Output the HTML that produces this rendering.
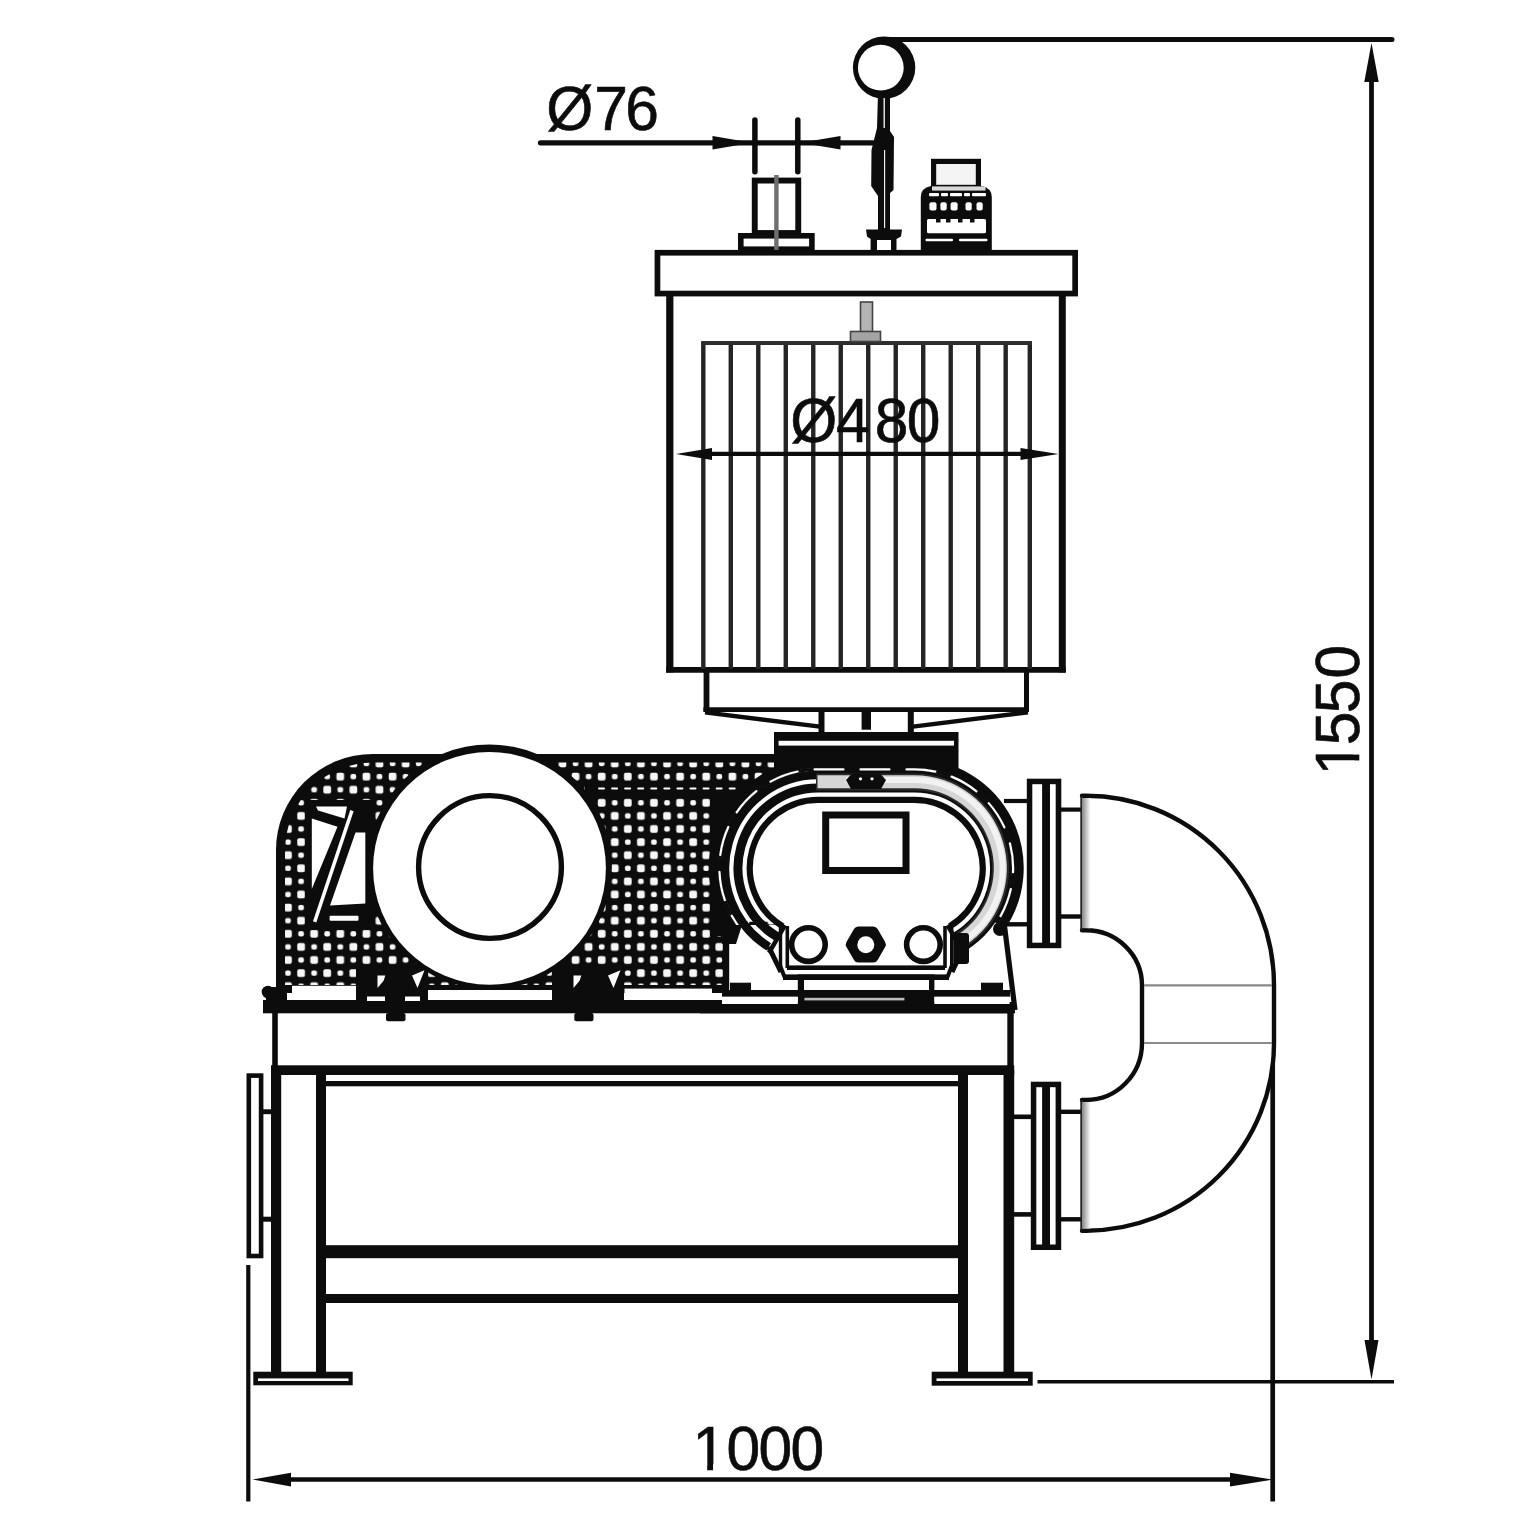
<!DOCTYPE html>
<html lang="en"><head><meta charset="utf-8"><title>Blower unit drawing</title>
<style>html,body{margin:0;padding:0;background:#fff}body{width:1530px;height:1530px;overflow:hidden}svg{display:block}</style>
</head><body>
<svg width="1530" height="1530" viewBox="0 0 1530 1530" font-family="'Liberation Sans', sans-serif" fill="#0c0c0c">
<style>text{stroke:#0c0c0c;stroke-width:0.6px;stroke-linejoin:round}</style>
<line x1="884" y1="39.5" x2="1392" y2="39.5" stroke="#0c0c0c" stroke-width="5" stroke-linecap="round"/>
<line x1="1371.5" y1="70" x2="1371.5" y2="1350" stroke="#0c0c0c" stroke-width="4.8" stroke-linecap="butt"/>
<polygon points="1371.5,43 1364.3,82 1378.7,82" fill="#0c0c0c"/>
<polygon points="1371.5,1379.5 1364.5,1340 1378.5,1340" fill="#0c0c0c"/>
<line x1="1037.5" y1="1381.7" x2="1394" y2="1381.7" stroke="#0c0c0c" stroke-width="3.6" stroke-linecap="butt"/>
<line x1="1272.7" y1="1043" x2="1272.7" y2="1501.5" stroke="#0c0c0c" stroke-width="4.7" stroke-linecap="butt"/>
<line x1="248.3" y1="1265" x2="248.3" y2="1501.5" stroke="#0c0c0c" stroke-width="4.2" stroke-linecap="butt"/>
<line x1="270" y1="1479.6" x2="1250" y2="1479.6" stroke="#0c0c0c" stroke-width="4.5" stroke-linecap="butt"/>
<polygon points="252.5,1479.6 291,1472.8 291,1486.3999999999999" fill="#0c0c0c"/>
<polygon points="1273,1479.6 1230,1472.8 1230,1486.3999999999999" fill="#0c0c0c"/>
<line x1="540.5" y1="142.8" x2="873" y2="142.8" stroke="#0c0c0c" stroke-width="5.3" stroke-linecap="round"/>
<line x1="754.9" y1="120" x2="754.9" y2="171.8" stroke="#0c0c0c" stroke-width="5.5" stroke-linecap="round"/>
<line x1="797.8" y1="120" x2="797.8" y2="171.8" stroke="#0c0c0c" stroke-width="5.5" stroke-linecap="round"/>
<polygon points="752,142.8 712.5,136.0 712.5,149.60000000000002" fill="#0c0c0c"/>
<polygon points="800.6,142.8 840.5,136.0 840.5,149.60000000000002" fill="#0c0c0c"/>
<rect x="754.75" y="180.54999999999998" width="43.5" height="52.5" fill="#fff" stroke="#0c0c0c" stroke-width="5.9"/>
<rect x="740.8" y="235.8" width="71.1" height="13.4" fill="#fff" stroke="#0c0c0c" stroke-width="5.6"/>
<line x1="776.4" y1="175" x2="776.4" y2="251" stroke="#6e6e6e" stroke-width="4.4" stroke-linecap="butt"/>
<rect x="657.45" y="252.75" width="417.7" height="40.8" fill="#fff" stroke="#0c0c0c" stroke-width="5.7"/>
<line x1="669.8" y1="294" x2="669.8" y2="672.5" stroke="#0c0c0c" stroke-width="7.2" stroke-linecap="butt"/>
<line x1="1062.3" y1="294" x2="1062.3" y2="672.5" stroke="#0c0c0c" stroke-width="7" stroke-linecap="butt"/>
<line x1="666.2" y1="669.8" x2="1065.8" y2="669.8" stroke="#0c0c0c" stroke-width="5.8" stroke-linecap="butt"/>
<line x1="703.3" y1="342" x2="703.3" y2="669" stroke="#242424" stroke-width="4.4" stroke-linecap="butt"/>
<line x1="730.79" y1="342" x2="730.79" y2="669" stroke="#242424" stroke-width="4.4" stroke-linecap="butt"/>
<line x1="758.28" y1="342" x2="758.28" y2="669" stroke="#242424" stroke-width="4.4" stroke-linecap="butt"/>
<line x1="785.77" y1="342" x2="785.77" y2="669" stroke="#242424" stroke-width="4.4" stroke-linecap="butt"/>
<line x1="813.26" y1="342" x2="813.26" y2="669" stroke="#242424" stroke-width="4.4" stroke-linecap="butt"/>
<line x1="840.75" y1="342" x2="840.75" y2="669" stroke="#242424" stroke-width="4.4" stroke-linecap="butt"/>
<line x1="868.24" y1="342" x2="868.24" y2="669" stroke="#242424" stroke-width="4.4" stroke-linecap="butt"/>
<line x1="895.73" y1="342" x2="895.73" y2="669" stroke="#242424" stroke-width="4.4" stroke-linecap="butt"/>
<line x1="923.22" y1="342" x2="923.22" y2="669" stroke="#242424" stroke-width="4.4" stroke-linecap="butt"/>
<line x1="950.71" y1="342" x2="950.71" y2="669" stroke="#242424" stroke-width="4.4" stroke-linecap="butt"/>
<line x1="978.2" y1="342" x2="978.2" y2="669" stroke="#242424" stroke-width="4.4" stroke-linecap="butt"/>
<line x1="1005.69" y1="342" x2="1005.69" y2="669" stroke="#242424" stroke-width="4.4" stroke-linecap="butt"/>
<line x1="1029.8" y1="342" x2="1029.8" y2="669" stroke="#242424" stroke-width="4.4" stroke-linecap="butt"/>
<line x1="701.2" y1="343" x2="1032" y2="343" stroke="#2e2e2e" stroke-width="4" stroke-linecap="butt"/>
<rect x="860.5" y="302" width="12.0" height="31" fill="#b4b4b4" stroke="#444" stroke-width="1.6"/>
<rect x="850.5" y="331.5" width="30.0" height="10.0" fill="#a4a4a4" stroke="#444" stroke-width="1.6"/>
<line x1="700" y1="453.9" x2="1035" y2="453.9" stroke="#0c0c0c" stroke-width="4.3" stroke-linecap="butt"/>
<polygon points="676,454 712,448 712,460" fill="#0c0c0c"/>
<polygon points="1058.5,454 1020.5,448 1020.5,460" fill="#0c0c0c"/>
<line x1="706.5" y1="671" x2="706.5" y2="711.5" stroke="#0c0c0c" stroke-width="5.8" stroke-linecap="butt"/>
<line x1="1026.5" y1="671" x2="1026.5" y2="711.5" stroke="#0c0c0c" stroke-width="5" stroke-linecap="butt"/>
<line x1="703.4" y1="709.6" x2="1029" y2="709.6" stroke="#0c0c0c" stroke-width="4.6" stroke-linecap="butt"/>
<line x1="705" y1="712.4" x2="820" y2="726.6" stroke="#0c0c0c" stroke-width="4.4" stroke-linecap="butt"/>
<line x1="1028" y1="712.2" x2="913" y2="726.6" stroke="#0c0c0c" stroke-width="4.4" stroke-linecap="butt"/>
<line x1="821.5" y1="709" x2="821.5" y2="734" stroke="#0c0c0c" stroke-width="6" stroke-linecap="butt"/>
<line x1="910.8" y1="709" x2="910.8" y2="734" stroke="#0c0c0c" stroke-width="6" stroke-linecap="butt"/>
<rect x="861.6" y="710" width="9.4" height="19.7" fill="#0c0c0c"/>
<circle cx="884.1" cy="67.6" r="31.2" fill="#0c0c0c"/>
<circle cx="880.8" cy="67.7" r="22.9" fill="#fff"/>
<path d="M878,93 L890,93 L890,131 L894,137 L893.5,190 L890,193 L890,231 L878,231 L878,196 L871.2,186 L871.5,150 L877,128 Z" fill="#0c0c0c" />
<line x1="884.2" y1="98" x2="884.2" y2="128" stroke="#fff" stroke-width="1.3" stroke-linecap="butt"/>
<line x1="884.6" y1="150" x2="884.6" y2="228" stroke="#fff" stroke-width="1.1" stroke-linecap="butt"/>
<path d="M866,229.4 L902,229.4 L901,236.5 L896.5,239 L896.5,250 L870.6,250 L870.6,239 L867,236.5 Z" fill="#0c0c0c" />
<rect x="877" y="240" width="14" height="10" fill="#fff"/>
<rect x="933.6" y="161.4" width="44.8" height="26.0" fill="#f4f4f4" stroke="#0c0c0c" stroke-width="5.2"/>
<path d="M920.8,250 L920.8,197 Q920.8,188 931,186 L981.5,186 Q991.8,188 991.8,197 L991.8,250 Z" fill="#0c0c0c" />
<rect x="932" y="186.4" width="53.5" height="4.2" fill="#d8d8d8"/>
<rect x="929" y="193" width="10" height="3.2" fill="#fff" rx="1"/>
<rect x="941" y="193" width="7" height="3.2" fill="#fff" rx="1"/>
<rect x="950" y="193" width="12" height="3.2" fill="#fff" rx="1"/>
<rect x="964" y="193" width="6" height="3.2" fill="#fff" rx="1"/>
<rect x="972" y="193" width="14" height="3.2" fill="#fff" rx="1"/>
<rect x="929.4" y="202.2" width="7.1" height="8.2" fill="#fff" rx="2"/>
<rect x="940.4" y="202.2" width="6.3" height="8.2" fill="#fff" rx="2"/>
<rect x="950.6" y="202.2" width="7.0" height="8.2" fill="#fff" rx="2"/>
<rect x="965.5" y="202.2" width="6.2" height="8.2" fill="#fff" rx="2"/>
<rect x="976.5" y="202.2" width="6.2" height="8.2" fill="#fff" rx="2"/>
<rect x="927" y="219" width="59" height="14.2" fill="#fff" rx="1.5"/>
<rect x="936" y="217" width="4.5" height="5.5" fill="#0c0c0c"/>
<rect x="946" y="217" width="4.5" height="5.5" fill="#0c0c0c"/>
<rect x="958" y="217" width="4.5" height="5.5" fill="#0c0c0c"/>
<rect x="970" y="217" width="4.5" height="5.5" fill="#0c0c0c"/>
<rect x="925.5" y="238.8" width="27.5" height="2.4" fill="#fff" rx="1"/>
<rect x="959" y="238.8" width="28.5" height="2.4" fill="#fff" rx="1"/>
<rect x="263" y="1000" width="751" height="13.3" fill="#0c0c0c"/>
<circle cx="268" cy="992" r="6.3" fill="#0c0c0c"/>
<line x1="275" y1="1006" x2="275" y2="1070" stroke="#0c0c0c" stroke-width="5.6" stroke-linecap="butt"/>
<line x1="1010.5" y1="1006" x2="1010.5" y2="1070" stroke="#0c0c0c" stroke-width="6.4" stroke-linecap="butt"/>
<rect x="271" y="1065.3" width="743.2" height="9.7" fill="#0c0c0c"/>
<rect x="325" y="1081" width="633" height="5.3" fill="#0c0c0c"/>
<rect x="271" y="1070" width="10.2" height="302" fill="#0c0c0c"/>
<rect x="316" y="1070" width="10" height="302" fill="#0c0c0c"/>
<rect x="958" y="1070" width="10" height="302" fill="#0c0c0c"/>
<rect x="1003.5" y="1070" width="10.7" height="302" fill="#0c0c0c"/>
<rect x="326" y="1245.2" width="632" height="13.0" fill="#0c0c0c"/>
<rect x="326" y="1294" width="632" height="9" fill="#0c0c0c"/>
<rect x="253.3" y="1371.7" width="99.4" height="13.6" fill="#0c0c0c"/>
<rect x="258" y="1378.4" width="90.5" height="2.6" fill="#fff"/>
<rect x="931.7" y="1371.7" width="101.0" height="14.0" fill="#0c0c0c"/>
<rect x="936.5" y="1378.4" width="91.5" height="2.6" fill="#fff"/>
<rect x="386" y="1013" width="19.5" height="8.2" fill="#0c0c0c" rx="2"/>
<rect x="574.3" y="1013" width="19.2" height="8.2" fill="#0c0c0c" rx="2"/>
<rect x="248.8" y="1075.6" width="12.3" height="180.4" fill="#fff" stroke="#0c0c0c" stroke-width="4.6"/>
<rect x="262" y="1109.3" width="10" height="4.9" fill="#0c0c0c"/>
<rect x="262" y="1216.7" width="10" height="5.0" fill="#0c0c0c"/>
<rect x="1026.8" y="778.7" width="34.5" height="169.5" fill="#0c0c0c"/>
<rect x="1032.3" y="784.2" width="9.8" height="158.5" fill="#fff"/>
<rect x="1050" y="784.2" width="5.7" height="158.5" fill="#fff"/>
<rect x="1030.8" y="1081.7" width="30.4" height="168.3" fill="#0c0c0c"/>
<rect x="1036.3" y="1087.2" width="5.8" height="157.3" fill="#fff"/>
<rect x="1050" y="1087.2" width="5.6" height="157.3" fill="#fff"/>
<line x1="1004" y1="801" x2="1027" y2="801" stroke="#0c0c0c" stroke-width="4.2" stroke-linecap="butt"/>
<line x1="1004" y1="924.3" x2="1027" y2="924.3" stroke="#0c0c0c" stroke-width="4.4" stroke-linecap="butt"/>
<line x1="1061" y1="809.6" x2="1081" y2="809.6" stroke="#0c0c0c" stroke-width="4.2" stroke-linecap="butt"/>
<line x1="1061" y1="916.5" x2="1081" y2="916.5" stroke="#0c0c0c" stroke-width="4.4" stroke-linecap="butt"/>
<line x1="1013" y1="1116.8" x2="1031" y2="1116.8" stroke="#0c0c0c" stroke-width="4.6" stroke-linecap="butt"/>
<line x1="1013" y1="1214.4" x2="1031" y2="1214.4" stroke="#0c0c0c" stroke-width="4.6" stroke-linecap="butt"/>
<line x1="1061" y1="1111.8" x2="1081" y2="1111.8" stroke="#0c0c0c" stroke-width="4.4" stroke-linecap="butt"/>
<line x1="1061" y1="1219.3" x2="1081" y2="1219.3" stroke="#0c0c0c" stroke-width="4.4" stroke-linecap="butt"/>
<path d="M1082,795.8 L1086,795.8 A188,189.2 0 0 1 1274,985 L1274,1043 A188,187.7 0 0 1 1086,1230.7 L1082,1230.7 L1082,1100 L1086,1100 A56,57 0 0 0 1142,1043 L1142,985 A56,55 0 0 0 1086,930.3 L1082,930.3 Z" fill="#fff" />
<path d="M1082,795.8 L1086,795.8 A188,189.2 0 0 1 1274,985 L1274,1043 A188,187.7 0 0 1 1086,1230.7 L1082,1230.7" fill="none" stroke="#0c0c0c" stroke-width="4.4" stroke-linejoin="round" stroke-linecap="round"/>
<path d="M1082,1100 L1086,1100 A56,57 0 0 0 1142,1043 L1142,985 A56,55 0 0 0 1086,930.3 L1082,930.3" fill="none" stroke="#0c0c0c" stroke-width="4.4" stroke-linejoin="round" stroke-linecap="round"/>
<line x1="1081.4" y1="795.8" x2="1081.4" y2="930.3" stroke="#222" stroke-width="2.2" stroke-linecap="butt"/>
<line x1="1081.4" y1="1100" x2="1081.4" y2="1230.7" stroke="#222" stroke-width="2.2" stroke-linecap="butt"/>
<defs><linearGradient id="sh" x1="0" x2="1"><stop offset="0" stop-color="#8c8c8c"/><stop offset="1" stop-color="#fff"/></linearGradient></defs>
<rect x="1082.4" y="798" width="8.1" height="130.2" fill="url(#sh)"/>
<rect x="1082.4" y="1102.2" width="8.1" height="126.3" fill="url(#sh)"/>
<line x1="1144" y1="985.3" x2="1272" y2="985.3" stroke="#8a8a8a" stroke-width="2.2" stroke-linecap="butt"/>
<line x1="1144" y1="1043" x2="1272" y2="1043" stroke="#8a8a8a" stroke-width="2.2" stroke-linecap="butt"/>
<defs>
<pattern id="mL" x="281.465" y="796.25" width="26.14" height="26.2" patternUnits="userSpaceOnUse"><rect width="26.14" height="26.2" fill="#0c0c0c"/><rect x="2.69" y="2.75" width="7.7" height="7.6" rx="1.9" fill="#f6f6f6"/><rect x="15.76" y="15.85" width="7.7" height="7.6" rx="1.9" fill="#f6f6f6"/><rect x="16.75" y="3.85" width="5.7" height="5.4" rx="2.0" fill="#f6f6f6"/><rect x="3.69" y="16.95" width="5.7" height="5.4" rx="2.0" fill="#f6f6f6"/></pattern>

<clipPath id="gc"><path d="M276,993 L276,850 A97,96 0 0 1 373,754 L775,754 L775,993 Z"/></clipPath>
</defs>
<path d="M276,993 L276,850 A97,96 0 0 1 373,754 L775,754 L775,993 Z" fill="#0c0c0c" />
<g clip-path="url(#gc)">
<path d="M285,985 L285,850 A88,88 0 0 1 373,762.5 L489,762.5 L489,985 Z" fill="url(#mL)" />
<rect x="489" y="762.5" width="286" height="222.5" fill="url(#mL)"/>
<rect x="585" y="783.5" width="190" height="13.7" fill="#0c0c0c"/>
<rect x="598.0" y="787.4" width="7.0" height="2.0" fill="#fff" rx="1"/>
<rect x="611.07" y="787.4" width="7.0" height="2.0" fill="#fff" rx="1"/>
<rect x="624.14" y="787.4" width="7.0" height="2.0" fill="#fff" rx="1"/>
<rect x="637.21" y="787.4" width="7.0" height="2.0" fill="#fff" rx="1"/>
<rect x="650.28" y="787.4" width="7.0" height="2.0" fill="#fff" rx="1"/>
<rect x="663.35" y="787.4" width="7.0" height="2.0" fill="#fff" rx="1"/>
<rect x="676.42" y="787.4" width="7.0" height="2.0" fill="#fff" rx="1"/>
<rect x="689.49" y="787.4" width="7.0" height="2.0" fill="#fff" rx="1"/>
<rect x="702.56" y="787.4" width="7.0" height="2.0" fill="#fff" rx="1"/>
<rect x="715.63" y="787.4" width="7.0" height="2.0" fill="#fff" rx="1"/>
<rect x="728.7" y="787.4" width="7.0" height="2.0" fill="#fff" rx="1"/>
<rect x="710" y="797" width="38" height="139" fill="#0c0c0c"/>
</g>
<polygon points="305,800 372,800 372,930 305,930" fill="#0c0c0c"/>
<polygon points="311.8,818.5 337.5,826.8 311.8,889" fill="#fff"/>
<polygon points="350.3,810 353.6,811.2 316.3,922.5 313,921.3" fill="#fff"/>
<polygon points="355.5,832.6 365.3,832.6 365.3,903.5 330,905.4" fill="#fff"/>
<rect x="329.6" y="915.8" width="28.9" height="5.0" fill="#fff" rx="1"/>
<polygon points="316,806.5 347,806.5 344.5,818.5 318,810.5" fill="#fff"/>
<rect x="356" y="966" width="72" height="35" fill="#0c0c0c"/>
<polygon points="377.5,975.6 388.0,975.6 377.5,988" fill="#fff"/>
<polygon points="412.0,975.6 424.5,970.3 417.5,988" fill="#fff"/>
<rect x="552" y="966" width="72" height="35" fill="#0c0c0c"/>
<polygon points="573.5,975.6 584.0,975.6 573.5,988" fill="#fff"/>
<polygon points="608.0,975.6 620.5,970.3 613.5,988" fill="#fff"/>
<rect x="292" y="985.8" width="64" height="14.2" fill="#fff"/>
<rect x="428" y="990" width="124" height="10" fill="#fff"/>
<rect x="624.5" y="988.6" width="87.5" height="11.4" fill="#fff"/>
<rect x="266" y="987" width="21" height="13" fill="#0c0c0c"/>
<rect x="367" y="996.5" width="18" height="4.5" fill="#fff"/>
<rect x="405" y="996.5" width="15" height="4.5" fill="#fff"/>
<circle cx="489.5" cy="866.85" r="122.35" fill="#0c0c0c"/>
<circle cx="489.5" cy="868.3" r="116.4" fill="#fff"/>
<circle cx="490" cy="867" r="71.4" fill="none" stroke="#0c0c0c" stroke-width="5.4"/>
<polygon points="385.5,974.5 405.5,974.5 408.5,985 405.5,996.5 385.5,996.5 382.5,985" fill="#0c0c0c"/>
<polygon points="581.5,974.5 601.5,974.5 604.5,985 601.5,996.5 581.5,996.5 578.5,985" fill="#0c0c0c"/>
<rect x="774" y="732" width="184.5" height="36" fill="#0c0c0c"/>
<rect x="778.6" y="740.8" width="175.4" height="4.8" fill="#fff"/>
<path d="M724.9,921.75 A107.5,107.5 0 0 1 818,760.5 L914.5,760.5 A107.5,107.5 0 0 1 1007.6,921.75 Z" fill="#fff" />
<polygon points="728,925 1006,925 1014,1002 722,1002" fill="#fff"/>
<path d="M734.54,930.89 A104.5,104.5 0 0 1 818,763.5 L914.5,763.5 A104.5,104.5 0 0 1 997.96,930.89" fill="none" stroke="#0c0c0c" stroke-width="9.4" />
<path d="M768.72,946.87 A93,93 0 0 1 818,775 L914.5,775 A93,93 0 0 1 963.78,946.87" fill="none" stroke="#0c0c0c" stroke-width="8.6" />
<path d="M736.26,923.14 A98.6,98.6 0 0 1 818,769.4 L914.5,769.4 A98.6,98.6 0 0 1 996.24,923.14" fill="none" stroke="#0c0c0c" stroke-width="3.4" />
<path d="M742.47,931.38 A98.6,98.6 0 0 1 818,769.4 L914.5,769.4 A98.6,98.6 0 0 1 990.03,931.38" fill="none" stroke="#fff" stroke-width="2.2" stroke-dasharray="29 17" stroke-dashoffset="10" stroke-linecap="round"/>
<path d="M776.8,936.57 A80,80 0 0 1 818,788 L914.5,788 A80,80 0 0 1 955.7,936.57" fill="none" stroke="#0c0c0c" stroke-width="9" />
<path d="M816,782 L914.5,782 A86,86 0 0 1 961.34,940.13" fill="none" stroke="#2a2a2a" stroke-width="17" />
<path d="M817.5,781.7 L914.5,781.7 A86.3,86.3 0 0 1 961.34,940.13" fill="none" stroke="#d6d6d6" stroke-width="13" />
<path d="M846,780 L914.5,780 A88,88 0 0 1 964.97,940.09" fill="none" stroke="#f2f2f2" stroke-width="6" />
<polygon points="846,780 852,773.5 880,773.5 886,780 881,789 851,789" fill="#0c0c0c"/>
<circle cx="860.5" cy="778.8" r="1.6" fill="#fff"/>
<circle cx="872" cy="778.8" r="1.6" fill="#fff"/>
<path d="M782.87,926.46 A68.2,68.2 0 0 1 818,799.8 L914.5,799.8 A68.2,68.2 0 0 1 949.63,926.46" fill="none" stroke="#0c0c0c" stroke-width="6.2" />
<line x1="785.0" y1="925.16" x2="769.0" y2="952.87" stroke="#0c0c0c" stroke-width="4.5" stroke-linecap="butt"/>
<line x1="947.5" y1="925.16" x2="963.5" y2="952.87" stroke="#0c0c0c" stroke-width="4.5" stroke-linecap="butt"/>
<line x1="726" y1="929" x2="726" y2="992" stroke="#0c0c0c" stroke-width="6.4" stroke-linecap="butt"/>
<polygon points="722,925 742,925 736,944 722,944" fill="#0c0c0c"/>
<line x1="1004.5" y1="926" x2="1015" y2="1010" stroke="#0c0c0c" stroke-width="5.2" stroke-linecap="butt"/>
<circle cx="1000" cy="929" r="7" fill="#0c0c0c"/>
<path d="M768.72,946.87 L781,972" fill="none" stroke="#0c0c0c" stroke-width="5" />
<path d="M963.78,946.87 L952,972" fill="none" stroke="#0c0c0c" stroke-width="5" />
<rect x="825.7" y="815.0" width="80.3" height="55.5" fill="#fff" stroke="#0c0c0c" stroke-width="7"/>
<line x1="780.5" y1="926" x2="780.5" y2="966" stroke="#0c0c0c" stroke-width="3.4" stroke-linecap="butt"/>
<line x1="787.3" y1="926" x2="787.3" y2="968" stroke="#0c0c0c" stroke-width="3.6" stroke-linecap="butt"/>
<line x1="945" y1="926" x2="945" y2="968" stroke="#0c0c0c" stroke-width="3.6" stroke-linecap="butt"/>
<line x1="951.7" y1="926" x2="951.7" y2="966" stroke="#0c0c0c" stroke-width="3.4" stroke-linecap="butt"/>
<rect x="787" y="965.4" width="158" height="4.6" fill="#0c0c0c"/>
<rect x="783" y="974.4" width="166" height="5.6" fill="#0c0c0c"/>
<line x1="779.5" y1="964" x2="784.5" y2="977" stroke="#0c0c0c" stroke-width="4" stroke-linecap="butt"/>
<line x1="952.5" y1="964" x2="947.5" y2="977" stroke="#0c0c0c" stroke-width="4" stroke-linecap="butt"/>
<rect x="953.3" y="933" width="15.7" height="31" fill="#0c0c0c" rx="3"/>
<circle cx="808.4" cy="944.6" r="16.8" fill="#fff" stroke="#0c0c0c" stroke-width="5.6"/>
<circle cx="923.4" cy="944.6" r="16.8" fill="#fff" stroke="#0c0c0c" stroke-width="5.6"/>
<polygon points="850.8,944.6 858.3,931.6 873.3,931.6 880.8,944.6 873.3,957.6 858.3,957.6" fill="#0c0c0c" stroke="#0c0c0c" stroke-width="10" stroke-linejoin="round"/>
<circle cx="865.8" cy="944.8" r="8.5" fill="#fff"/>
<rect x="797.8" y="974.4" width="136.6" height="29.6" fill="#0c0c0c"/>
<rect x="804" y="980" width="125" height="10" fill="#fff"/>
<rect x="804.4" y="997.8" width="100.0" height="2.6" fill="#bdbdbd"/>
<rect x="722" y="990" width="76" height="6.7" fill="#0c0c0c"/>
<rect x="934" y="990" width="76" height="6.7" fill="#0c0c0c"/>
<rect x="730" y="982.7" width="21" height="8.3" fill="#0c0c0c"/>
<rect x="981" y="982.7" width="22" height="8.3" fill="#0c0c0c"/>
<rect x="722" y="996.9" width="75.8" height="7.1" fill="#fff"/>
<rect x="934.4" y="996.9" width="75.2" height="7.1" fill="#fff"/>
<rect x="700" y="1004" width="315" height="9.3" fill="#0c0c0c"/>
<g transform="translate(546.15,129.6) scale(1,1.03)">
<text x="0.00 48.20 79.15" y="0" font-size="60.5">Ø76</text>
</g>
<g transform="translate(790.3,441.9) scale(1,1.03)">
<text x="0.00 45.80 84.40 116.50" y="0" font-size="60.5">Ø480</text>
</g>
<g transform="translate(692.4,1470.0) scale(1,1.03)">
<text x="0.00 34.05 66.20 98.15" y="0" font-size="60.5">1000</text>
<rect x="2.42" y="-5.57" width="12.34" height="7.87" fill="#fff"/>
<rect x="20.63" y="-5.57" width="12.10" height="7.87" fill="#fff"/>
</g>
<g transform="translate(1359.2,777.3) rotate(-90) scale(1,1.03)">
<text x="2.1 32.1 64.1 98.75" y="0" font-size="60.5">1550</text>
<rect x="4.52" y="-5.57" width="12.34" height="7.87" fill="#fff"/>
<rect x="22.73" y="-5.57" width="12.10" height="7.87" fill="#fff"/>
</g>
</svg>
</body></html>
